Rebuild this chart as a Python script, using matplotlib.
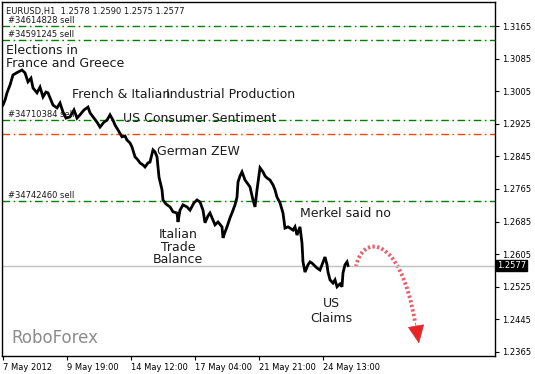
import numpy as np
import matplotlib.pyplot as plt
from matplotlib.path import Path
from matplotlib.patches import PathPatch

# EURUSD H1, bar index (hours from 7 May 2012 00:00) and price
bar_idx = [0, 2, 4, 7, 10, 15, 19, 22, 25, 28, 30, 34, 37, 40, 43, 45, 50, 54, 57, 60,
           63, 67, 71, 74, 77, 81, 85, 87, 90, 94, 97, 101, 104, 107, 110, 112, 115, 119,
           122, 124, 127, 129, 132, 135, 137, 140, 142, 145, 147, 150, 152, 154, 156, 159,
           160, 163, 167, 170, 174, 175, 177, 180, 184, 187, 191, 194, 197, 200, 202, 205,
           207, 210, 212, 215, 219, 220, 222, 224, 227, 229, 232, 234, 235, 237, 239, 242,
           245, 247, 250, 252, 254, 257, 260, 262, 264, 267, 270, 272, 274, 277, 280, 282,
           285, 287, 290, 292, 294, 297, 299, 300, 302, 305, 307, 309, 312, 314, 317, 319,
           322, 324, 325, 327, 330, 332, 334, 337, 339, 340, 342, 344, 345]
price = [1.2971, 1.2983, 1.3001, 1.3020, 1.3045, 1.3052, 1.3057, 1.3050, 1.3028, 1.3037,
         1.3013, 1.3001, 1.3015, 1.2991, 1.3003, 1.3001, 1.2971, 1.2964, 1.2976, 1.2954,
         1.2939, 1.2942, 1.2959, 1.2939, 1.2947, 1.2959, 1.2966, 1.2952, 1.2942, 1.2929,
         1.2917, 1.2929, 1.2934, 1.2947, 1.2934, 1.2922, 1.2910, 1.2893, 1.2895, 1.2885,
         1.2878, 1.2868, 1.2844, 1.2836, 1.2829, 1.2824, 1.2819, 1.2829, 1.2831, 1.2861,
         1.2856, 1.2844, 1.2794, 1.2763, 1.2738, 1.2728, 1.2721, 1.2709, 1.2706, 1.2684,
         1.2713, 1.2726, 1.2721, 1.2713, 1.2731, 1.2738, 1.2733, 1.2713, 1.2682, 1.2699,
         1.2706, 1.2689, 1.2677, 1.2684, 1.2672, 1.2645, 1.2659, 1.2672, 1.2694, 1.2706,
         1.2726, 1.2745, 1.2782, 1.2797, 1.2807, 1.2787, 1.2777, 1.2770, 1.2738, 1.2721,
         1.2763, 1.2817, 1.2807, 1.2797, 1.2792, 1.2787, 1.2775, 1.2763, 1.2745, 1.2731,
         1.2706, 1.2669, 1.2672, 1.2669, 1.2664, 1.2672, 1.2652, 1.2672, 1.2632, 1.2586,
         1.2561, 1.2579, 1.2586, 1.2583, 1.2576, 1.2571, 1.2566, 1.2579, 1.2598, 1.2579,
         1.2561, 1.2542, 1.2534, 1.2542, 1.2525, 1.2532, 1.2525, 1.2559, 1.2579, 1.2586,
         1.2577]

order_levels = [1.3165, 1.3130, 1.2934, 1.2735]
order_labels = ['#34614828 sell', '#34591245 sell', '#34710384 sell', '#34742460 sell']
orange_level = 1.2900
last_price = 1.2577

yticks = [1.2365, 1.2445, 1.2525, 1.2605, 1.2685, 1.2765, 1.2845, 1.2925, 1.3005, 1.3085, 1.3165]
xticks = [0, 64, 128, 192, 256, 320]
xlabels = ['7 May 2012', '9 May 19:00', '14 May 12:00', '17 May 04:00', '21 May 21:00', '24 May 13:00']

txtc = '#1a1a1a'

fig = plt.figure(figsize=(5.35, 3.74), dpi=100)
ax = fig.add_axes([2/535, 18/374, 493/535, 354/374])
ax.set_xlim(-1, 492)
ax.set_ylim(1.2355, 1.3224)

# levels
for lv, lb in zip(order_levels, order_labels):
    ax.axhline(lv, color='#008000', lw=1, dashes=(5.5, 2.5, 1.2, 2.5))
    ax.annotate(lb, (5, lv), xytext=(0, 1), textcoords='offset points',
                fontsize=6, va='bottom', color=txtc)
ax.axhline(orange_level, color='#ff4500', lw=1, dashes=(5.5, 2.5, 1.2, 2.5))
ax.axhline(last_price, color='#c0c0c0', lw=1)

ax.plot(bar_idx, price, color='black', lw=2, solid_joinstyle='miter')

# texts
ax.text(3, 1.3089, 'Elections in\nFrance and Greece', fontsize=9, va='center',
        color=txtc, linespacing=0.95)
ax.text(69, 1.2996, 'French & Italian', fontsize=9, va='center', color=txtc)
ax.text(163, 1.2996, 'Industrial Production', fontsize=9, va='center', color=txtc)
ax.text(120, 1.2937, 'US Consumer Sentiment', fontsize=9, va='center', color=txtc)
ax.text(154, 1.2856, 'German ZEW', fontsize=9, va='center', color=txtc)
ax.text(297, 1.2704, 'Merkel said no', fontsize=9, va='center', color=txtc)
ax.text(175, 1.2622, 'Italian\nTrade\nBalance', fontsize=9, va='center', ha='center',
        color=txtc, linespacing=0.95)
ax.text(328, 1.2466, 'US\nClaims', fontsize=9, va='center', ha='center',
        color=txtc, linespacing=1.15)
ax.text(8, 1.2398, 'RoboForex', fontsize=12, va='center', color='#8c8c8c')
ax.text(0.008, 0.985, 'EURUSD,H1  1.2578 1.2590 1.2575 1.2577', transform=ax.transAxes,
        fontsize=6, va='top', color=txtc)

# forecast arrow
curve = Path([(353, 1.2574), (359, 1.2655), (397, 1.2655), (412, 1.2439)],
             [Path.MOVETO, Path.CURVE4, Path.CURVE4, Path.CURVE4])
ax.add_patch(PathPatch(curve, fill=False, lw=2.8, color='#e8606a',
                       linestyle=(0, (0.6, 0.6))))
ax.annotate('', xy=(416, 1.2386), xytext=(412.5, 1.2436),
            arrowprops=dict(arrowstyle='-|>,head_width=0.55,head_length=1.2',
                            color='#e8232a', lw=0.5, shrinkA=0, shrinkB=0))

# axes
ax.yaxis.tick_right()
ax.set_yticks(yticks)
ax.set_yticklabels(['%.4f' % v for v in yticks])
ax.set_xticks(xticks)
ax.set_xticklabels(xlabels, ha='left')
ax.tick_params(axis='both', direction='out', length=3, width=0.8, labelsize=6,
               colors='black', pad=2)
for s in ax.spines.values():
    s.set_linewidth(1)
ax.text(1.004, last_price, '1.2577', transform=ax.get_yaxis_transform(),
        fontsize=6, color='white', va='center', ha='left',
        bbox=dict(boxstyle='square,pad=0.15', fc='black', ec='black'))

fig.savefig('out.png', dpi=100)
